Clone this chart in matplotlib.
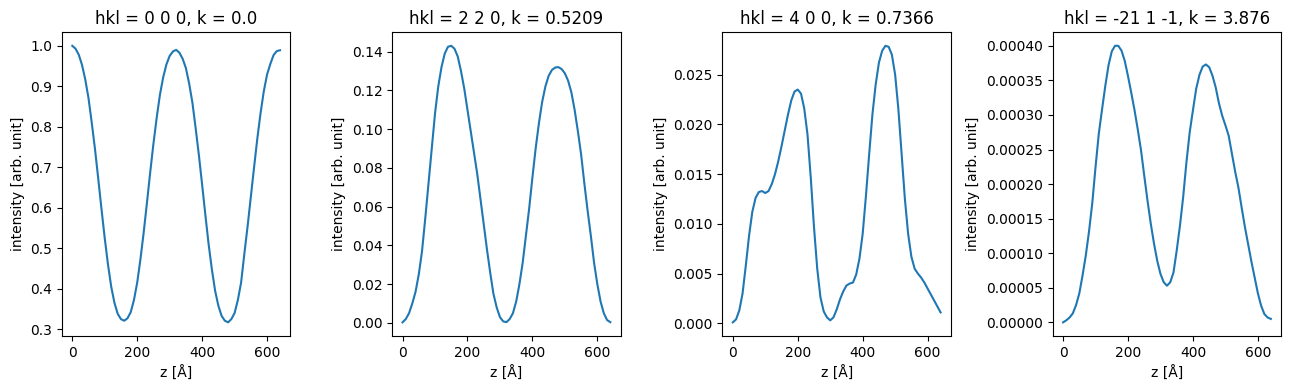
import numpy as np
import matplotlib.pyplot as plt

# z positions [Angstrom], read every 10 A off the reference
z = [0, 10, 20, 30, 40, 50, 60, 70, 80, 90, 100, 110, 120, 130, 140, 150,
     160, 170, 180, 190, 200, 210, 220, 230, 240, 250, 260, 270, 280, 290,
     300, 310, 320, 330, 340, 350, 360, 370, 380, 390, 400, 410, 420, 430,
     440, 450, 460, 470, 480, 490, 500, 510, 520, 530, 540, 550, 560, 570,
     580, 590, 600, 610, 620, 630, 640]

titles = ["hkl = 0 0 0, k = 0.0", "hkl = 2 2 0, k = 0.5209",
          "hkl = 4 0 0, k = 0.7366", "hkl = -21 1 -1, k = 3.876"]

int_000 = [1.0, 0.993, 0.978, 0.953, 0.917, 0.871, 0.81, 0.745, 0.672, 0.597,
           0.525, 0.46, 0.405, 0.365, 0.338, 0.325, 0.321, 0.327, 0.342,
           0.372, 0.415, 0.473, 0.539, 0.612, 0.687, 0.758, 0.822, 0.879,
           0.922, 0.954, 0.975, 0.986, 0.99, 0.983, 0.968, 0.945, 0.907,
           0.86, 0.797, 0.73, 0.657, 0.582, 0.51, 0.448, 0.395, 0.358, 0.333,
           0.321, 0.317, 0.325, 0.34, 0.372, 0.415, 0.486, 0.554, 0.627,
           0.70, 0.771, 0.834, 0.888, 0.929, 0.955, 0.977, 0.987, 0.989]

int_220 = [0.0003, 0.002, 0.005, 0.010, 0.016, 0.025, 0.037, 0.054, 0.072,
           0.090, 0.108, 0.122, 0.132, 0.139, 0.1425, 0.143, 0.1415, 0.1375,
           0.130, 0.121, 0.110, 0.099, 0.088, 0.077, 0.064, 0.051, 0.038,
           0.026, 0.015, 0.008, 0.003, 0.0008, 0.0004, 0.002, 0.005, 0.011,
           0.020, 0.031, 0.045, 0.059, 0.075, 0.090, 0.103, 0.114, 0.122,
           0.1275, 0.1305, 0.1318, 0.132, 0.131, 0.1288, 0.125, 0.119, 0.110,
           0.099, 0.087, 0.072, 0.058, 0.045, 0.031, 0.020, 0.011, 0.005,
           0.0015, 0.0004]

int_400 = [0.0001, 0.0004, 0.0013, 0.0030, 0.0058, 0.0088, 0.0112, 0.0126,
           0.0132, 0.0133, 0.0131, 0.0133, 0.0140, 0.0150, 0.0163, 0.0178,
           0.0194, 0.0210, 0.0224, 0.0233, 0.0235, 0.0231, 0.0216, 0.0190,
           0.0147, 0.0097, 0.0055, 0.0026, 0.0012, 0.0006, 0.0003, 0.0006,
           0.0014, 0.0024, 0.0032, 0.0038, 0.0040, 0.0041, 0.0049, 0.0065,
           0.0090, 0.0128, 0.0170, 0.0210, 0.0240, 0.0262, 0.0274, 0.0279,
           0.0278, 0.0270, 0.0250, 0.0215, 0.0170, 0.0125, 0.0090, 0.0067,
           0.0055, 0.0050, 0.0046, 0.0041, 0.0035, 0.0029, 0.0023, 0.0017,
           0.0011]

int_m21 = [0.000000, 0.000003, 0.000007, 0.000013, 0.000025, 0.000042,
           0.000068, 0.000097, 0.000132, 0.000173, 0.000225, 0.000273,
           0.000308, 0.000342, 0.000372, 0.000392, 0.000400, 0.000400,
           0.000393, 0.000378, 0.000356, 0.000332, 0.000307, 0.000279,
           0.000249, 0.000212, 0.000176, 0.000143, 0.000114, 0.000089,
           0.000070, 0.000058, 0.000053, 0.000058, 0.000072, 0.000104,
           0.000140, 0.000182, 0.000232, 0.000275, 0.000307, 0.000338,
           0.000358, 0.000370, 0.000373, 0.000369, 0.000357, 0.000340,
           0.000317, 0.000299, 0.000285, 0.000270, 0.000244, 0.000218,
           0.000195, 0.000166, 0.000138, 0.000113, 0.000088, 0.000065,
           0.000042, 0.000024, 0.000012, 0.000007, 0.000005]

intensities = [int_000, int_220, int_400, int_m21]

fig, axs = plt.subplots(1, 4, figsize=(12.89, 3.9), dpi=100)
for ax, title, inten in zip(axs, titles, intensities):
    ax.plot(z, inten)
    ax.set_title(title)
    ax.set_xlabel("z [Å]")
    ax.set_ylabel("intensity [arb. unit]")

plt.subplots_adjust(left=0.048, right=0.994, top=0.918, bottom=0.138, wspace=0.445)
plt.savefig("out.png", dpi=100)
plt.close()
